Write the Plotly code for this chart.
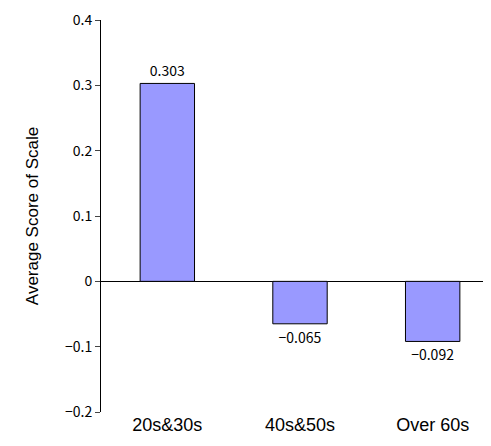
import plotly.graph_objects as go

groups = ["20s&30s", "40s&50s", "Over 60s"]
scores = [0.303, -0.065, -0.092]
score_text = ["0.303", "−0.065", "−0.092"]
tick_vals = [-0.2, -0.1, 0, 0.1, 0.2, 0.3, 0.4]
tick_text = ["−0.2", "−0.1", "0", "0.1", "0.2", "0.3", "0.4"]

fig = go.Figure(go.Bar(
    x=groups, y=scores, text=score_text, textposition="outside",
    textfont=dict(family="Noto Sans CJK JP", size=14, color="black"),
    marker=dict(color="#9999ff", line=dict(color="black", width=1)),
    width=0.41, cliponaxis=False,
))
fig.update_layout(
    width=491, height=446, plot_bgcolor="white", paper_bgcolor="white",
    margin=dict(l=93, r=0, t=12, b=42), showlegend=False,
    font=dict(family="Liberation Sans", color="black"),
)
fig.update_yaxes(
    range=[-0.2, 0.4001], tickvals=tick_vals, ticktext=tick_text,
    tickfont=dict(family="Noto Sans CJK JP", size=14),
    showgrid=False, zeroline=True, zerolinecolor="black", zerolinewidth=1,
    showline=True, linecolor="black", ticks="outside", ticklen=5,
    title=dict(text="Average Score of Scale", font=dict(size=17), standoff=22),
)
fig.update_xaxes(showline=False, showgrid=False, tickfont=dict(size=18))
fig.write_html("out.html")
